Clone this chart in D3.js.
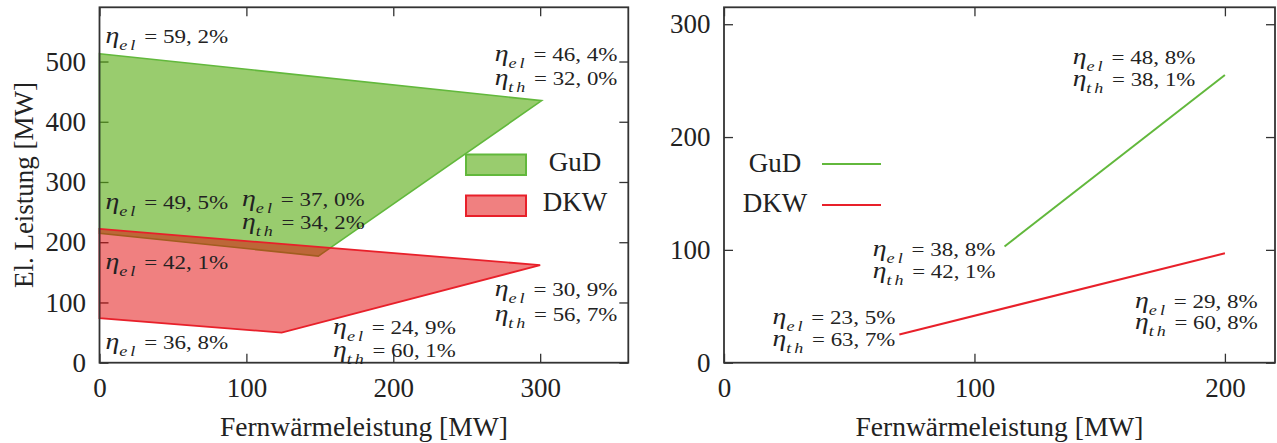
<!DOCTYPE html>
<html>
<head>
<meta charset="utf-8">
<script src="https://cdn.jsdelivr.net/npm/d3@7"></script>
<style>
    body { margin: 0; background: #fff; }
    svg text { font-family: "Liberation Serif", serif; fill: #222; }
</style>
</head>
<body>
<script>
// --- data ------------------------------------------------------------
// left panel: operating areas (Fernwaerme x, El. Leistung y), MW
var gudAreaX = [0, 301, 149, 0];
var gudAreaY = [513, 435, 177, 215];
var dkwAreaX = [0, 300, 124, 0];
var dkwAreaY = [222, 162, 50, 74];

// right panel: lines
var gudLineX = [112, 200];
var gudLineY = [103, 255];
var dkwLineX = [70, 200];
var dkwLineY = [25, 97];

var leftXTicks = [0, 100, 200, 300];
var leftYTicks = [0, 100, 200, 300, 400, 500];
var rightXTicks = [0, 100, 200];
var rightYTicks = [0, 100, 200, 300];

var seriesNames = ["GuD", "DKW"];
var xTitle = "Fernwärmeleistung [MW]";
var yTitle = "El. Leistung [MW]";

// annotation values: [sub, value]
var leftNotes = [
    [["el", "59, 2%"]],
    [["el", "46, 4%"], ["th", "32, 0%"]],
    [["el", "49, 5%"]],
    [["el", "37, 0%"], ["th", "34, 2%"]],
    [["el", "42, 1%"]],
    [["el", "30, 9%"], ["th", "56, 7%"]],
    [["el", "24, 9%"], ["th", "60, 1%"]],
    [["el", "36, 8%"]]
];
var rightNotes = [
    [["el", "48, 8%"], ["th", "38, 1%"]],
    [["el", "38, 8%"], ["th", "42, 1%"]],
    [["el", "23, 5%"], ["th", "63, 7%"]],
    [["el", "29, 8%"], ["th", "60, 8%"]]
];

// --- layout ----------------------------------------------------------
var W = 1277, H = 443;
var top_ = 7.3, bottom_ = 362.7;
var FONT = "Liberation Serif";
var leftPanel = { x0: 99.5, x1: 628.3, xMax: 360, yMax: 590 };
var rightPanel = { x0: 724, x1: 1275, xMax: 220, yMax: 315 };
// where each note block starts, in data units (x, first baseline y, second baseline y)
var leftNotePos = [[4, 531], [269, 501, 461], [4, 255], [97, 260, 222], [4, 155.5], [269, 110.7, 69], [159, 48, 9.5], [4, 22.7]];
var rightNotePos = [[139.2, 264.5, 245.2], [59.4, 94.4, 75.3], [19.4, 34, 14.8], [164.1, 48.7, 29.6]];
var noteWidth = 123;

var green = "#62b83c", red = "#e8202a";
var greenFill = "rgba(85,170,13,0.6)", redFill = "rgba(225,1,1,0.5)";

var svg = d3.select("body").append("svg")
    .attr("width", W)
    .attr("height", H)
    .attr("font-family", FONT);

function makePanel(p, xTicks, yTicks) {
    var x = d3.scaleLinear().domain([0, p.xMax]).range([p.x0, p.x1]);
    var y = d3.scaleLinear().domain([0, p.yMax]).range([bottom_, top_]);
    var g = svg.append("g");

    var ticks = g.append("g").attr("class", "ticks");
    ticks.append("g")
        .attr("transform", "translate(0," + bottom_ + ")")
        .call(d3.axisBottom(x).tickValues(xTicks).tickSizeInner(-9).tickSizeOuter(0).tickPadding(15));
    ticks.append("g")
        .attr("transform", "translate(0," + top_ + ")")
        .call(d3.axisTop(x).tickValues(xTicks).tickSizeInner(-9).tickSizeOuter(0).tickFormat(""));
    ticks.append("g")
        .attr("transform", "translate(" + p.x0 + ",0)")
        .call(d3.axisLeft(y).tickValues(yTicks).tickSizeInner(-9).tickSizeOuter(0).tickPadding(13.5));
    ticks.append("g")
        .attr("transform", "translate(" + p.x1 + ",0)")
        .call(d3.axisRight(y).tickValues(yTicks).tickSizeInner(-9).tickSizeOuter(0).tickFormat(""));
    // d3 axes put a sans-serif font on their groups, undo that
    ticks.selectAll("g").attr("font-family", FONT).attr("font-size", 27);
    ticks.selectAll(".domain").remove();
    ticks.selectAll(".tick line").attr("stroke", "#333").attr("stroke-width", 1.3);
    ticks.selectAll(".tick text")
        .attr("font-family", FONT)
        .attr("font-size", 27)
        .attr("fill", "#222");

    g.append("text")
        .attr("x", (p.x0 + p.x1) / 2)
        .attr("y", 436)
        .attr("text-anchor", "middle")
        .attr("font-size", 27.5)
        .text(xTitle);

    return { g: g, x: x, y: y, p: p };
}

function drawFrame(panel) {
    panel.g.append("rect")
        .attr("x", panel.p.x0)
        .attr("y", top_)
        .attr("width", panel.p.x1 - panel.p.x0)
        .attr("height", bottom_ - top_)
        .attr("fill", "none")
        .attr("stroke", "#333")
        .attr("stroke-width", 1.8);
}

function drawNotes(panel, notes, pos) {
    notes.forEach(function(lines, i) {
        lines.forEach(function(line, j) {
            var t = panel.g.append("text")
                .attr("xml:space", "preserve")
                .attr("font-family", FONT)
                .attr("font-size", 19);
            t.append("tspan").attr("font-style", "italic").attr("font-size", 23).text("η");
            t.append("tspan")
                .attr("font-style", "italic")
                .attr("font-size", 15)
                .attr("letter-spacing", 2.5)
                .attr("dy", 7)
                .text(line[0]);
            t.append("tspan").attr("dy", -7).text(" = " + line[1]);
            var w = t.node().getBBox().width;
            var px = panel.x(pos[i][0]), py = panel.y(pos[i][j + 1]);
            t.attr("transform", "translate(" + px + "," + py + ") scale(" + (noteWidth / w) + ",1)");
        });
    });
}

// ---------------- left panel ----------------
var L = makePanel(leftPanel, leftXTicks, leftYTicks);

var poly = function(xs, ys) {
    return xs.map(function(v, i) { return [L.x(v), L.y(ys[i])]; });
};
var polyLine = d3.line().curve(d3.curveLinearClosed);

L.g.append("path")
    .attr("d", polyLine(poly(gudAreaX, gudAreaY)))
    .attr("fill", greenFill)
    .attr("stroke", green)
    .attr("stroke-width", 1.6);
L.g.append("path")
    .attr("d", polyLine(poly(dkwAreaX, dkwAreaY)))
    .attr("fill", redFill)
    .attr("stroke", red)
    .attr("stroke-width", 1.8);

drawFrame(L);

L.g.append("text")
    .attr("transform", "translate(33,185) rotate(-90)")
    .attr("text-anchor", "middle")
    .attr("font-size", 27)
    .text(yTitle);

// legend with boxes
var legL = L.g.append("g");
[[greenFill, green], [redFill, red]].forEach(function(c, i) {
    legL.append("rect")
        .attr("x", 466).attr("y", 154.5 + i * 41)
        .attr("width", 60).attr("height", 20.5)
        .attr("fill", c[0]).attr("stroke", c[1]).attr("stroke-width", 2);
    legL.append("text")
        .attr("x", 575).attr("y", 171 + i * 40)
        .attr("text-anchor", "middle")
        .attr("font-size", 27)
        .text(seriesNames[i]);
});

drawNotes(L, leftNotes, leftNotePos);

// ---------------- right panel ----------------
var R = makePanel(rightPanel, rightXTicks, rightYTicks);

var line = d3.line();
R.g.append("path")
    .attr("d", line(gudLineX.map(function(v, i) { return [R.x(v), R.y(gudLineY[i])]; })))
    .attr("fill", "none").attr("stroke", green).attr("stroke-width", 2);
R.g.append("path")
    .attr("d", line(dkwLineX.map(function(v, i) { return [R.x(v), R.y(dkwLineY[i])]; })))
    .attr("fill", "none").attr("stroke", red).attr("stroke-width", 2);

drawFrame(R);

var legR = R.g.append("g");
[green, red].forEach(function(c, i) {
    legR.append("line")
        .attr("x1", 822).attr("x2", 881)
        .attr("y1", 164 + i * 41).attr("y2", 164 + i * 41)
        .attr("stroke", c).attr("stroke-width", 2);
    legR.append("text")
        .attr("x", 775).attr("y", 172 + i * 40)
        .attr("text-anchor", "middle")
        .attr("font-size", 27)
        .text(seriesNames[i]);
});

drawNotes(R, rightNotes, rightNotePos);
</script>
</body>
</html>
